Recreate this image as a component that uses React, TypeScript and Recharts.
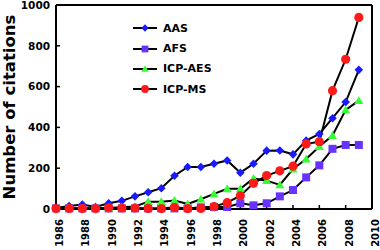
import { Legend, Line, LineChart, ReferenceLine, XAxis, YAxis } from "recharts";

const years = [1986, 1987, 1988, 1989, 1990, 1991, 1992, 1993, 1994, 1995, 1996, 1997, 1998, 1999, 2000, 2001, 2002, 2003, 2004, 2005, 2006, 2007, 2008, 2009];
const aas = [5, 15, 22, 10, 28, 40, 62, 82, 102, 163, 206, 206, 222, 238, 178, 222, 286, 287, 268, 335, 368, 445, 524, 682];
const afs = [3, 3, 3, 3, 3, 3, 3, 3, 3, 3, 3, 8, 10, 10, 28, 18, 28, 62, 93, 155, 214, 295, 314, 314];
const icpAes = [2, 3, 3, 3, 5, 8, 12, 36, 36, 42, 25, 48, 74, 99, 99, 150, 139, 118, 196, 245, 306, 360, 486, 531];
const icpMs = [2, 3, 2, 2, 6, 5, 5, 3, 2, 8, 2, 3, 12, 31, 65, 126, 164, 187, 210, 319, 330, 580, 734, 939];

const xTicks = [1986, 1988, 1990, 1992, 1994, 1996, 1998, 2000, 2002, 2004, 2006, 2008, 2010];
const yTicks = [0, 200, 400, 600, 800, 1000];

const data = years.map((year, i) => ({ year, aas: aas[i], afs: afs[i], icpAes: icpAes[i], icpMs: icpMs[i] }));

const FONT = "DejaVu Sans, Verdana, sans-serif";

// marker shapes, drawn at (cx, cy)
const marker = (kind: string, cx: number, cy: number, color: string, s = 1) => {
  if (kind === "diamond") {
    const r = 4.3 * s;
    return <polygon points={`${cx},${cy - r} ${cx + r},${cy} ${cx},${cy + r} ${cx - r},${cy}`} fill={color} />;
  }
  if (kind === "square") {
    const r = 4 * s;
    return <rect x={cx - r} y={cy - r} width={2 * r} height={2 * r} fill={color} />;
  }
  if (kind === "triangle") {
    const r = 4.5 * s;
    return <polygon points={`${cx},${cy - r} ${cx + r},${cy + r * 0.75} ${cx - r},${cy + r * 0.75}`} fill={color} />;
  }
  return <circle cx={cx} cy={cy} r={4.6 * s} fill={color} />;
};

const series = [
  { key: "aas", name: "AAS", color: "#1a1aff", kind: "diamond" },
  { key: "afs", name: "AFS", color: "#6633ff", kind: "square" },
  { key: "icpAes", name: "ICP-AES", color: "#33ff33", kind: "triangle" },
  { key: "icpMs", name: "ICP-MS", color: "#ff1a1a", kind: "circle" },
];

const tickStyle = { fontFamily: FONT, fontWeight: "bold", fill: "#000" };

const renderLegend = () => (
  <div style={{ fontFamily: FONT, fontWeight: "bold", fontSize: 11 }}>
    {series.map((s) => (
      <div key={s.key} style={{ display: "flex", alignItems: "center", height: 20.4 }}>
        <svg width={33} height={20} style={{ display: "block" }}>
          <line x1={3} y1={10} x2={27} y2={10} stroke="#000" strokeWidth={2} />
          {marker(s.kind, 15, 10, s.color, 0.85)}
        </svg>
        <span>{s.name}</span>
      </div>
    ))}
  </div>
);

export default function App() {
  return (
    <div style={{ position: "absolute", left: 0, top: 0 }}>
      <LineChart width={380} height={250} data={data} margin={{ top: 5, right: 8, bottom: 0, left: 0 }}>
        <XAxis
          dataKey="year"
          type="number"
          domain={[1986, 2010]}
          ticks={xTicks}
          interval={0}
          height={41}
          tickSize={-4}
          tickMargin={14}
          tick={{ ...tickStyle, fontSize: 10, angle: -90, textAnchor: "end", verticalAnchor: "middle" }}
          axisLine={{ stroke: "#000", strokeWidth: 2 }}
          tickLine={{ stroke: "#000", strokeWidth: 1.5 }}
        />
        <YAxis
          type="number"
          domain={[0, 1000]}
          ticks={yTicks}
          interval={0}
          width={56}
          tickSize={-4}
          tickMargin={10}
          tick={{ ...tickStyle, fontSize: 10.5, textAnchor: "end", verticalAnchor: "middle" }}
          axisLine={{ stroke: "#000", strokeWidth: 2 }}
          tickLine={{ stroke: "#000", strokeWidth: 1.5 }}
          label={{
            content: () => (
              <text
                transform="translate(9,107) rotate(-90)"
                textAnchor="middle"
                dominantBaseline="central"
                fontFamily={FONT}
                fontWeight="bold"
                fontSize={16.5}
                fill="#000"
              >
                Number of citations
              </text>
            ),
          }}
        />
        <ReferenceLine y={1000} stroke="#000" strokeWidth={2} />
        <ReferenceLine x={2010} stroke="#000" strokeWidth={2} />
        <Legend
          layout="vertical"
          align="center"
          verticalAlign="middle"
          wrapperStyle={{ left: 130, top: 18, width: 120 }}
          content={renderLegend}
        />
        {series.map((s) => (
          <Line
            key={s.key}
            dataKey={s.key}
            name={s.name}
            stroke="#000"
            strokeWidth={2}
            isAnimationActive={false}
            dot={(p: any) => <g key={`${s.key}-${p.index}`}>{marker(s.kind, p.cx, p.cy, s.color)}</g>}
            activeDot={false}
          />
        ))}
      </LineChart>
    </div>
  );
}
